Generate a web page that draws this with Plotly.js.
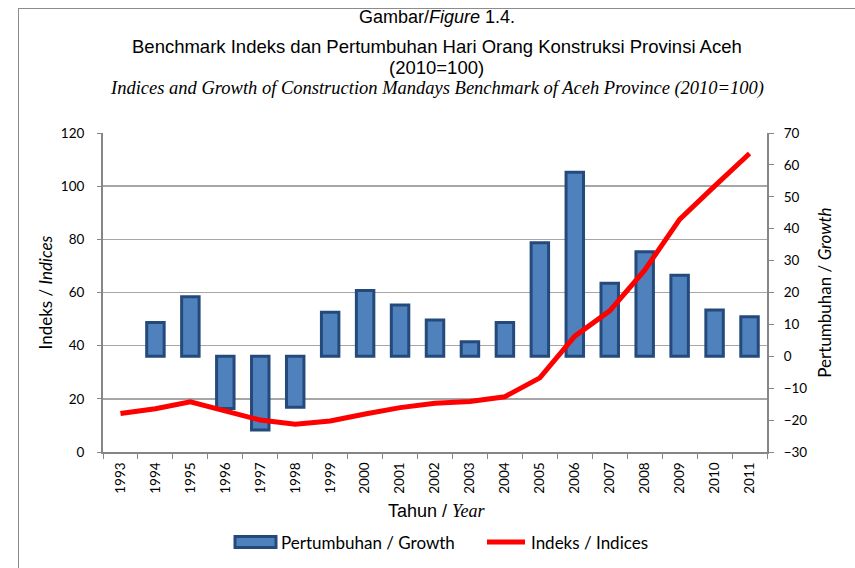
<!DOCTYPE html>
<html>
<head>
<meta charset="utf-8">
<script src="https://cdn.plot.ly/plotly-3.0.1.min.js"></script>
<style>
  html, body { margin: 0; padding: 0; background: #fff; overflow: hidden; }
  #chart { width: 855px; height: 568px; position: relative; }
  #frame { position: absolute; left: 18px; top: 8px; width: 900px; height: 700px;
           border: 1px solid #8c8c8c; pointer-events: none; }
</style>
</head>
<body>
<div id="chart"></div>
<div id="frame"></div>
<script>
const years = ["1993","1994","1995","1996","1997","1998","1999","2000","2001","2002",
               "2003","2004","2005","2006","2007","2008","2009","2010","2011"];
const growth = [null, 10.6, 18.7, -16.4, -23.1, -16.0, 13.8, 20.6, 16.1, 11.4,
                4.6, 10.6, 35.6, 57.7, 22.9, 32.8, 25.4, 14.5, 12.4];
const indices = [14.5, 16.3, 18.9, 15.5, 12.0, 10.4, 11.7, 14.3, 16.7, 18.3,
                 19.0, 20.8, 27.9, 43.6, 53.1, 68.4, 87.5, 100.0, 112.3];
const growthName = "Pertumbuhan / Growth";
const indicesName = "Indeks / Indices";

const sans = "Lato, 'Open Sans', sans-serif";
const titleSans = "'Liberation Sans', Arial, sans-serif";
const tickFont = {family: sans, size: 13.5, color: "#000"};
const barFill = "#4F81BD", barLine = "#244A7C", lineColor = "#FF0000";

const traces = [
  {
    type: "bar", name: growthName, x: years, y: growth, yaxis: "y",
    width: 0.5, showlegend: false,
    marker: {color: barFill, line: {color: barLine, width: 3}}
  },
  {
    type: "scatter", mode: "lines", name: indicesName, x: years, y: indices, yaxis: "y2",
    showlegend: false,
    line: {color: lineColor, width: 5}
  }
];

// pixel helpers for paper coords of decorations (plot area 103..767 x 133..452)
const px = v => (v - 103) / 664;
const py = v => (452 - v) / 319;

const layout = {
  width: 855, height: 568,
  margin: {l: 103, r: 88, t: 133, b: 116},
  paper_bgcolor: "#fff", plot_bgcolor: "#fff",
  showlegend: false,
  xaxis: {
    type: "category", tickangle: -90, tickfont: tickFont,
    showline: true, linecolor: "#868686", linewidth: 2,
    ticks: "outside", tickson: "boundaries", ticklen: 5, tickcolor: "#868686",
    showgrid: false, ticklabelstandoff: 3
  },
  yaxis: {
    range: [-30, 70], dtick: 10, side: "right", tickfont: tickFont,
    showline: true, linecolor: "#868686", linewidth: 2,
    ticks: "outside", ticklen: 5, tickcolor: "#868686",
    showgrid: false, zeroline: false, ticklabelstandoff: 7,
    title: {text: "Pertumbuhan / <i>Growth</i>", font: {family: sans, size: 17, color: "#000"}, standoff: 13}
  },
  yaxis2: {
    range: [0, 120], dtick: 20, overlaying: "y", side: "left", tickfont: tickFont,
    showline: true, linecolor: "#868686", linewidth: 2,
    ticks: "outside", ticklen: 4, tickcolor: "#868686",
    showgrid: true, gridcolor: "#a6a6a6", gridwidth: 1.5, zeroline: false,
    ticklabelstandoff: 10,
    title: {text: "Indeks / <i>Indices</i>", font: {family: sans, size: 17, color: "#000"}, standoff: 4}
  },
  shapes: [
    {type: "rect", xref: "paper", yref: "paper", x0: px(235), x1: px(276), y0: py(536.5), y1: py(547.5),
     fillcolor: barFill, line: {color: barLine, width: 3}},
    {type: "line", xref: "paper", yref: "paper", x0: px(487), x1: px(525), y0: py(542), y1: py(542),
     line: {color: lineColor, width: 5}}
  ],
  annotations: [
    {text: "Gambar/<i>Figure</i> 1.4.", xref: "paper", yref: "paper", x: 0.503, y: py(17),
     xanchor: "center", yanchor: "middle", showarrow: false,
     font: {family: titleSans, size: 18, color: "#000"}},
    {text: "Benchmark Indeks dan Pertumbuhan Hari Orang Konstruksi Provinsi Aceh", xref: "paper", yref: "paper", x: 0.503, y: py(46),
     xanchor: "center", yanchor: "middle", showarrow: false,
     font: {family: titleSans, size: 18.5, color: "#000"}},
    {text: "(2010=100)", xref: "paper", yref: "paper", x: 0.503, y: py(68),
     xanchor: "center", yanchor: "middle", showarrow: false,
     font: {family: titleSans, size: 18.5, color: "#000"}},
    {text: "<i>Indices and Growth of Construction Mandays Benchmark of Aceh Province (2010=100)</i>", xref: "paper", yref: "paper", x: 0.503, y: py(89),
     xanchor: "center", yanchor: "middle", showarrow: false,
     font: {family: "'Liberation Serif', 'Times New Roman', serif", size: 18.5, color: "#000"}},
    {text: "Tahun / <span style=\"font-family:'Liberation Serif',serif\"><i>Year</i></span>", xref: "paper", yref: "paper", x: 0.503, y: py(511),
     xanchor: "center", yanchor: "middle", showarrow: false,
     font: {family: titleSans, size: 18, color: "#000"}},
    {text: growthName, xref: "paper", yref: "paper", x: px(279), y: py(542),
     xanchor: "left", yanchor: "middle", showarrow: false,
     font: {family: sans, size: 17, color: "#000"}},
    {text: indicesName, xref: "paper", yref: "paper", x: px(529), y: py(542),
     xanchor: "left", yanchor: "middle", showarrow: false,
     font: {family: sans, size: 17, color: "#000"}}
  ]
};

Plotly.newPlot("chart", traces, layout, {displayModeBar: false, staticPlot: true});
</script>
</body>
</html>
